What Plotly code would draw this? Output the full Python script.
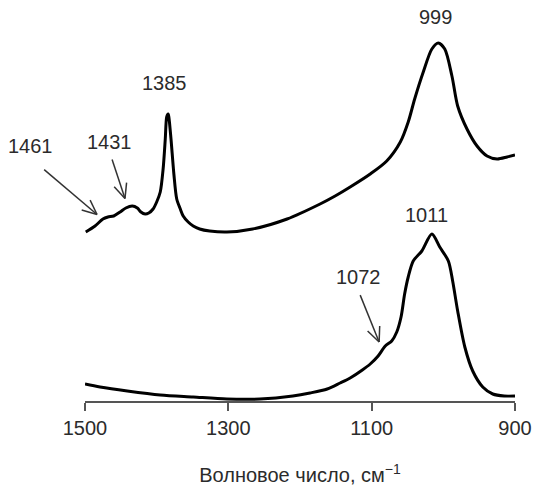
import plotly.graph_objects as go
import math

# Wavenumber (cm^-1) and absorbance (a.u.)
top_wn = [1499, 1486, 1475, 1468, 1460, 1451, 1443, 1434, 1427, 1422, 1416, 1411, 1405,
          1400, 1395, 1391, 1388, 1386, 1384, 1383, 1380, 1376, 1372, 1367, 1363, 1356,
          1349, 1340, 1326, 1302, 1266, 1218, 1172, 1151, 1130, 1102, 1079, 1060, 1049, 1040,
          1028, 1016, 1007, 998, 988, 980, 967, 953, 939, 925, 911, 900]
top_abs = [1.69, 1.75, 1.82, 1.84, 1.85, 1.89, 1.93, 1.95, 1.93, 1.89, 1.87, 1.88, 1.92,
           1.99, 2.09, 2.32, 2.62, 2.84, 2.87, 2.84, 2.62, 2.27, 2.02, 1.92, 1.85, 1.79,
           1.75, 1.72, 1.70, 1.69, 1.72, 1.82, 1.97, 2.05, 2.14, 2.27, 2.40, 2.59, 2.79, 3.02,
           3.29, 3.52, 3.58, 3.52, 3.25, 2.95, 2.72, 2.55, 2.45, 2.42, 2.44, 2.46]

bot_wn = [1500, 1479, 1441, 1395, 1349, 1302, 1256, 1210, 1186, 1162, 1144, 1130, 1113,
          1102, 1091, 1081, 1072, 1065, 1059, 1054, 1049, 1042, 1030, 1016, 1005, 993, 987,
          980, 970, 959, 945, 931, 915, 900]
bot_abs = [0.17, 0.14, 0.10, 0.06, 0.04, 0.02, 0.02, 0.05, 0.08, 0.12, 0.18, 0.23, 0.31,
           0.37, 0.45, 0.55, 0.60, 0.69, 0.84, 1.07, 1.24, 1.40, 1.50, 1.67, 1.54, 1.40, 1.20,
           0.90, 0.54, 0.30, 0.14, 0.07, 0.05, 0.05]

tick_vals = [1500, 1300, 1100, 900]
x_title = "Волновое число, см<sup>−1</sup>"

# Peak labels: (text, x paper, y paper)
labels = [("999", 0.816, 0.958), ("1385", 0.184, 0.794), ("1431", 0.058, 0.647),
          ("1461", -0.126, 0.637), ("1011", 0.795, 0.465), ("1072", 0.635, 0.308)]
# Arrows: (tail x, tail y, head x, head y) in paper coordinates
arrows = [(-0.095, 0.577, 0.028, 0.465), (0.063, 0.602, 0.093, 0.505),
          (0.640, 0.264, 0.684, 0.147)]

W, H = 534, 486
ML, MR, MT, MB = 85, 19, 0, 85
PW, PH = W - ML - MR, H - MT - MB

fig = go.Figure()
for xs, ys in ((top_wn, top_abs), (bot_wn, bot_abs)):
    fig.add_trace(go.Scatter(x=xs, y=ys, mode="lines",
                             line=dict(color="black", width=3, shape="spline", smoothing=0.8),
                             hoverinfo="skip", showlegend=False))

font = dict(family="Liberation Sans, Arial, sans-serif", size=20, color="#2b2b2b")
for t, x, y in labels:
    fig.add_annotation(text=t, x=x, y=y, xref="paper", yref="paper", showarrow=False,
                       font=font, xanchor="center", yanchor="middle")

shapes = []
for x0, y0, x1, y1 in arrows:
    col = "#333333"
    shapes.append(dict(type="line", xref="paper", yref="paper", x0=x0, y0=y0, x1=x1, y1=y1,
                       line=dict(color=col, width=1.5)))
    dx = (x0 - x1) * PW
    dy = (y0 - y1) * PH
    L = math.hypot(dx, dy)
    ux, uy = dx / L, dy / L
    hl = 16
    for ang in (0.42, -0.42):
        c, s = math.cos(ang), math.sin(ang)
        vx = ux * c - uy * s
        vy = ux * s + uy * c
        shapes.append(dict(type="line", xref="paper", yref="paper", x0=x1, y0=y1,
                           x1=x1 + vx * hl / PW, y1=y1 + vy * hl / PH,
                           line=dict(color=col, width=1.5)))

fig.update_layout(
    width=W, height=H,
    margin=dict(l=ML, r=MR, t=MT, b=MB),
    paper_bgcolor="white", plot_bgcolor="white",
    shapes=shapes,
    xaxis=dict(range=[1500, 900], tickvals=tick_vals, ticks="outside", ticklen=8,
               tickwidth=1.5, tickcolor="#555555", showline=True, linecolor="#555555",
               linewidth=1.5, showgrid=False, zeroline=False, tickfont=font,
               title=dict(text=x_title, font=font, standoff=34)),
    yaxis=dict(range=[0, 4.01], visible=False, showgrid=False, zeroline=False),
)

fig.write_html("out.html", config={"displayModeBar": False},
               post_script="document.body.style.margin='0';")
